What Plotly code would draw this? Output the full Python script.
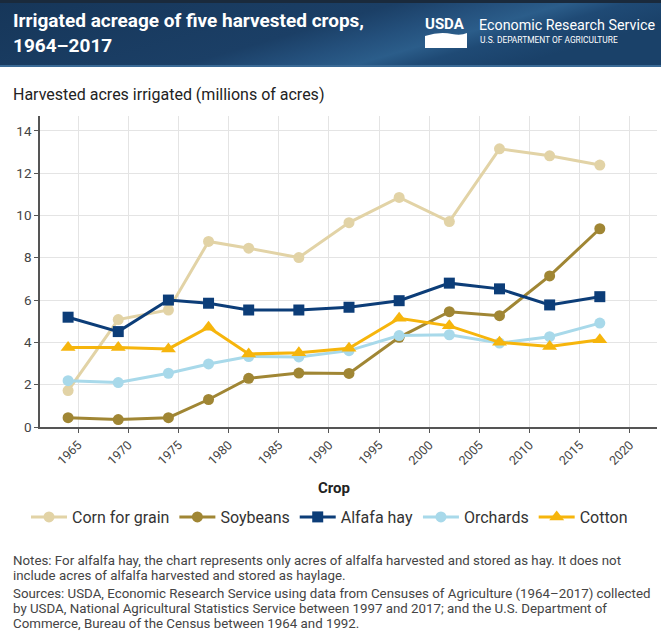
import base64
import plotly.graph_objects as go

# ---------------- data ----------------
years = [1964, 1969, 1974, 1978, 1982, 1987, 1992, 1997, 2002, 2007, 2012, 2017]
corn = [1.72, 5.08, 5.53, 8.77, 8.45, 8.01, 9.66, 10.85, 9.71, 13.15, 12.82, 12.38]
soybeans = [0.44, 0.35, 0.44, 1.30, 2.30, 2.55, 2.53, 4.24, 5.45, 5.26, 7.14, 9.37]
alfalfa = [5.19, 4.51, 6.00, 5.85, 5.53, 5.53, 5.66, 5.97, 6.80, 6.53, 5.77, 6.16]
orchards = [2.19, 2.10, 2.54, 2.98, 3.33, 3.31, 3.61, 4.32, 4.36, 3.97, 4.27, 4.91]
cotton = [3.76, 3.76, 3.69, 4.72, 3.45, 3.51, 3.72, 5.14, 4.78, 4.00, 3.81, 4.12]

series_names = ["Corn for grain", "Soybeans", "Alfafa hay", "Orchards", "Cotton"]
x_ticks = [1965, 1970, 1975, 1980, 1985, 1990, 1995, 2000, 2005, 2010, 2015, 2020]

title_line1 = "Irrigated acreage of five harvested crops,"
title_line2 = "1964–2017"
y_title = "Harvested acres irrigated (millions of acres)"
x_title = "Crop"
notes = [
    "Notes: For alfalfa hay, the chart represents only acres of alfalfa harvested and stored as hay. It does not",
    "include acres of alfalfa harvested and stored as haylage.",
    "Sources: USDA, Economic Research Service using data from Censuses of Agriculture (1964–2017) collected",
    "by USDA, National Agricultural Statistics Service between 1997 and 2017; and the U.S. Department of",
    "Commerce, Bureau of the Census between 1964 and 1992.",
]

# ---------------- layout geometry ----------------
W, H = 661, 642
ML, MR, MT, MB = 40, 4, 116, 215
PW = W - ML - MR
PH = H - MT - MB


def px2x(px):
    return (px - ML) / PW


def py2y(py):
    return (H - MB - py) / PH


FONT = "Roboto, 'Open Sans', sans-serif"

colors = ["#e2d3a6", "#a08634", "#0c3d78", "#a8d9ea", "#f6b50c"]
symbols = ["circle", "circle", "square", "circle", "triangle-up"]
sizes = [11, 11, 11, 11, 13]
values = [corn, soybeans, alfalfa, orchards, cotton]

fig = go.Figure()
for name, vals, c, s, sz in zip(series_names, values, colors, symbols, sizes):
    fig.add_trace(go.Scatter(
        x=years, y=vals, name=name, mode="lines+markers",
        line=dict(color=c, width=3),
        marker=dict(color=c, symbol=s, size=sz, line=dict(width=0)),
    ))

# header gradient as svg image
svg = f'''<svg xmlns="http://www.w3.org/2000/svg" width="{W}" height="67" viewBox="0 0 {W} 67" preserveAspectRatio="none">
<defs>
<linearGradient id="g" x1="0" y1="0" x2="1" y2="0.35">
<stop offset="0" stop-color="#163659"/>
<stop offset="0.55" stop-color="#1b3f66"/>
<stop offset="0.68" stop-color="#24507c"/>
<stop offset="0.78" stop-color="#2b5d8a"/>
<stop offset="0.86" stop-color="#1f4a75"/>
<stop offset="1" stop-color="#1a4169"/>
</linearGradient>
</defs>
<rect x="0" y="0" width="{W}" height="67" fill="url(#g)"/>
<rect x="0" y="0" width="{W}" height="3" fill="#1a2a3c"/>
<rect x="0" y="65" width="{W}" height="2" fill="#3a6a96"/>
</svg>'''
src = "data:image/svg+xml;base64," + base64.b64encode(svg.encode()).decode()

fig.add_layout_image(dict(
    source=src, xref="paper", yref="paper",
    x=px2x(0), y=py2y(0), sizex=W / PW, sizey=67 / PH,
    xanchor="left", yanchor="top", sizing="stretch", layer="below",
))

shapes = [
    # USDA flag shape (white wave block)
    dict(type="path", xref="paper", yref="paper",
         path=(f"M {px2x(425)},{py2y(36)} "
               f"Q {px2x(440)},{py2y(31)} {px2x(452)},{py2y(34)} "
               f"Q {px2x(461)},{py2y(36)} {px2x(467)},{py2y(33)} "
               f"L {px2x(467)},{py2y(48)} L {px2x(425)},{py2y(48)} Z"),
         fillcolor="white", line=dict(width=0)),
]

ann = []
ann.append(dict(text="<b>" + title_line1 + "</b>", x=px2x(11), y=py2y(21), xanchor="left", yanchor="middle",
                font=dict(family=FONT, size=19, color="white")))
ann.append(dict(text="<b>" + title_line2 + "</b>", x=px2x(11), y=py2y(45), xanchor="left", yanchor="middle",
                font=dict(family=FONT, size=19, color="white")))
ann.append(dict(text="<b>USDA</b>", x=px2x(423), y=py2y(24), xanchor="left", yanchor="middle",
                font=dict(family=FONT, size=15, color="white")))
ann.append(dict(text="Economic Research Service", x=px2x(477), y=py2y(25), xanchor="left", yanchor="middle",
                font=dict(family=FONT, size=14.3, color="white")))
ann.append(dict(text="U.S. DEPARTMENT OF AGRICULTURE", x=px2x(478), y=py2y(40), xanchor="left", yanchor="middle",
                font=dict(family=FONT, size=8.4, color="white")))
ann.append(dict(text=y_title, x=px2x(11), y=py2y(94), xanchor="left", yanchor="middle",
                font=dict(family=FONT, size=16, color="#222")))
ann.append(dict(text="<b>" + x_title + "</b>", x=px2x(334), y=py2y(488), xanchor="center", yanchor="middle",
                font=dict(family=FONT, size=15, color="#222")))
note_y = [560, 575, 593, 608, 623]
for t, yy in zip(notes, note_y):
    ann.append(dict(text=t, x=px2x(11), y=py2y(yy), xanchor="left", yanchor="middle",
                    font=dict(family=FONT, size=13.3, color="#444")))
for a in ann:
    a.update(xref="paper", yref="paper", showarrow=False)

fig.update_layout(
    width=W, height=H, autosize=False,
    margin=dict(l=ML, r=MR, t=MT, b=MB),
    paper_bgcolor="white", plot_bgcolor="white",
    font=dict(family=FONT, color="#333"),
    showlegend=True,
    legend=dict(orientation="h", x=px2x(26), xanchor="left", y=py2y(517), yanchor="middle",
                font=dict(family=FONT, size=16, color="#333"), bgcolor="rgba(0,0,0,0)",
                itemclick=False, itemwidth=36),
    xaxis=dict(range=[1961.2, 2022.7], tickvals=x_ticks, ticktext=[str(v) for v in x_ticks],
               tickangle=-45, showgrid=True, gridcolor="#e4e4e4", gridwidth=1,
               showline=True, linecolor="#555", linewidth=1.5, ticks="outside", ticklen=4,
               tickcolor="#555", tickfont=dict(family=FONT, size=12.5, color="#444"), zeroline=False),
    yaxis=dict(range=[0, 14.7], tickvals=[0, 2, 4, 6, 8, 10, 12, 14], showgrid=True,
               gridcolor="#e4e4e4", gridwidth=1, showline=True, linecolor="#555", linewidth=1.5,
               ticks="outside", ticklen=4, tickcolor="#555",
               tickfont=dict(family=FONT, size=13.5, color="#444"), zeroline=False),
    shapes=shapes,
    annotations=ann,
)

fig.write_html("out.html")
